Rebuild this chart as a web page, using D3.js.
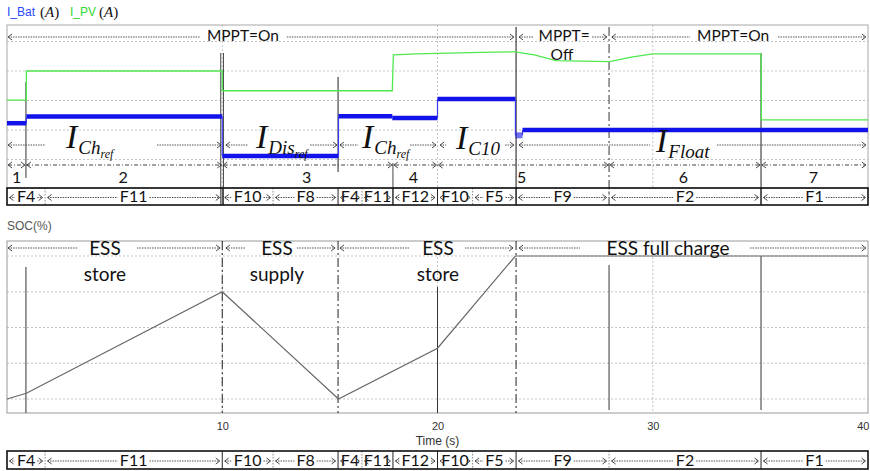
<!DOCTYPE html>
<html><head><meta charset="utf-8">
<script src="https://cdn.jsdelivr.net/npm/d3@7"></script>
<style>
body{margin:0;background:#fff;}
svg{display:block;}
</style></head>
<body><svg id="c" width="870" height="471"></svg>
<script>
// ---------------- data ----------------
const batTime  = [0, 0.9, 10, 15.4, 17.9, 20, 23.62, 23.95, 40];
const batValue = [1.23, 1.46, 0.12, 1.47, 1.41, 2.05, 0.82, 1.0, 1.0];
const pvTime  = [0, 0.9, 0.9, 10, 10, 17.9, 17.95, 19, 20, 22, 23.6, 24.5, 25.5, 28, 29, 30, 32, 35.03, 35.05, 40];
const pvValue = [2.01, 2.01, 3.0, 3.0, 2.33, 2.33, 3.55, 3.58, 3.6, 3.63, 3.65, 3.55, 3.35, 3.32, 3.47, 3.58, 3.58, 3.58, 1.34, 1.34];
const socTime  = [0, 0.9, 10, 15.4, 20, 23.62, 40];
const socValue = [60, 61.6, 90, 60, 74.2, 100, 100];
const xTicks = [10, 20, 30, 40];
const iGrid = [0, 1, 2, 3, 4];
const socGrid = [60, 70, 80, 90, 100];
const stripEdges  = [0, 1.77, 10, 12.36, 15.38, 16.49, 17.93, 20, 21.63, 23.65, 27.97, 35.03, 40];
const stripLabels = ["F4", "F11", "F10", "F8", "F4", "F11", "F12", "F10", "F5", "F9", "F2", "F1"];
const stripMajor  = [false, true, false, true, false, true, true, false, true, false, true];
const modeLabels = ["1", "2", "3", "4", "5", "6", "7"];
const modeCenters = [0.45, 5.4, 13.92, 18.88, 23.91, 31.42, 37.46];
const modeJunctions = [0.88, 10, 17.93, 20, 27.97, 35.03];

// ---------------- layout ----------------
const svg = d3.select("#c");
const x = d3.scaleLinear().domain([0, 40]).range([7, 868]);
const yI = d3.scaleLinear().domain([0, 4]).range([159.5, 41.5]);
const yS = d3.scaleLinear().domain([60, 100]).range([399, 256]);
const up = {top: 25, bottom: 188};
const lo = {top: 241, bottom: 413};
const SANS = "Lato, 'Open Sans', sans-serif";
const ARIAL = "'Liberation Sans', Arial, sans-serif";
const SERIF = "'Liberation Serif', 'Times New Roman', serif";
const GRID = "#c4c4c4";
const ARR = "#555";

function head(g, xt, y, dir) {
  g.append("path").attr("d", `M${xt - dir*4},${y-3}L${xt},${y}L${xt - dir*4},${y+3}`)
   .attr("fill", "none").attr("stroke", "#333").attr("stroke-width", 0.9);
}
function piece(g, y, t0, t1, h) {
  g.append("line").attr("x1", x(t0)).attr("x2", x(t1)).attr("y1", y).attr("y2", y)
   .attr("stroke", ARR).attr("stroke-width", 1).attr("stroke-dasharray", "1.5,1");
  if (h === "L" || h === "B") head(g, x(t0), y, -1);
  if (h === "R" || h === "B") head(g, x(t1), y, 1);
}
function vline(g, t, y0, y1, style, col, off) {
  const l = g.append("line").attr("x1", x(t) + (off||0)).attr("x2", x(t) + (off||0))
    .attr("y1", y0).attr("y2", y1).attr("stroke", col || "#222").attr("stroke-width", 1);
  if (style === "dashdot") l.attr("stroke-dasharray", "9,3,2,3");
  if (style === "dot") l.attr("stroke-dasharray", "1.5,1.5");
  return l;
}

// ---------------- top legend ----------------
const lg = svg.append("g");
lg.append("text").attr("x", 7).attr("y", 16).attr("font-family", ARIAL).attr("font-size", 12).attr("fill", "#2a48ff").text("I_Bat");
lg.append("text").attr("x", 40).attr("y", 17).attr("font-family", SERIF).attr("font-size", 15).attr("fill", "#111").html("(<tspan font-style='italic'>A</tspan>)");
lg.append("text").attr("x", 70).attr("y", 16).attr("font-family", ARIAL).attr("font-size", 12).attr("fill", "#33d633").text("I_PV");
lg.append("text").attr("x", 99).attr("y", 17).attr("font-family", SERIF).attr("font-size", 15).attr("fill", "#111").html("(<tspan font-style='italic'>A</tspan>)");

// ---------------- upper panel ----------------
const U = svg.append("g");
U.selectAll(".hg").data(iGrid).join("line").attr("x1", x(0)).attr("x2", x(40))
  .attr("y1", d => yI(d)).attr("y2", d => yI(d)).attr("stroke", GRID).attr("stroke-dasharray", "2,2");
U.selectAll(".vg").data([10, 20, 30]).join("line").attr("x1", d => x(d)).attr("x2", d => x(d))
  .attr("y1", up.top).attr("y2", up.bottom).attr("stroke", GRID).attr("stroke-dasharray", "2,2");
U.append("rect").attr("x", x(0)).attr("y", up.top).attr("width", x(40) - x(0)).attr("height", up.bottom - up.top)
  .attr("fill", "none").attr("stroke", "#a8a8a8");

// event lines
vline(U, 0.88, 82, 178, "solid", "#333");
vline(U, 10, 53, 205, "solid", "#444", -1.5);
vline(U, 10, 53, 205, "solid", "#444", 1.2);
vline(U, 15.38, 77, 172, "solid", "#222");
vline(U, 17.93, 163, 205, "solid", "#444");
vline(U, 23.65, 27, 205, "solid", "#111");
vline(U, 27.97, 27, 205, "dashdot", "#333");
vline(U, 35.03, 53, 205, "solid", "#222");

// PV line
const pvLine = d3.line().x((d, i) => x(pvTime[i])).y(d => yI(d)).curve(d3.curveLinear);
U.append("path").attr("d", pvLine(pvValue)).attr("fill", "none").attr("stroke", "#4fe84f").attr("stroke-width", 1.3);

// Bat line: thick horizontal steps, thin vertical connectors
for (let i = 0; i < batTime.length - 1; i++) {
  U.append("line").attr("x1", x(batTime[i])).attr("x2", x(batTime[i+1]))
    .attr("y1", yI(batValue[i])).attr("y2", yI(batValue[i]))
    .attr("stroke", "#1212ea").attr("stroke-width", i === 6 ? 6 : 4.5).attr("opacity", i === 6 ? 0.6 : 1);
  if (i > 0) U.append("line").attr("x1", x(batTime[i])).attr("x2", x(batTime[i]))
    .attr("y1", yI(batValue[i-1])).attr("y2", yI(batValue[i]))
    .attr("stroke", "#3a3af0").attr("stroke-width", 1.2);
}

// MPPT row
const mY = 37;
[[0.05, 8.97, "L"], [13.0, 23.55, "R"], [23.79, 24.44, "L"], [27.18, 27.87, "R"], [28.1, 31.73, "L"], [35.82, 39.9, "R"]]
  .forEach(p => piece(U, mY, p[0], p[1], p[2]));
[["MPPT=On", 10.96, 41], ["MPPT=", 25.88, 41], ["Off", 25.78, 59.5], ["MPPT=On", 33.73, 41]].forEach(d =>
  U.append("text").attr("x", x(d[1])).attr("y", d[2]).attr("text-anchor", "middle")
   .attr("font-family", SANS).attr("font-size", 15.5).attr("fill", "#111").text(d[0]));

// current reference row
const iY = 145;
[[0.05, 1.77, "L"], [6.97, 9.94, "R"], [10.17, 11.2, "L"], [14.08, 15.33, "R"], [15.47, 16.31, "L"],
 [18.72, 19.93, "R"], [20.12, 20.4, "L"], [23.14, 23.55, "R"], [23.79, 29.87, "L"], [32.98, 39.9, "R"]]
  .forEach(p => piece(U, iY, p[0], p[1], p[2]));
const iLabels = [
  {t: 2.74, sub: "Ch", ss: "ref", b: 148},
  {t: 11.57, sub: "Dis", ss: "ref", b: 148},
  {t: 16.49, sub: "Ch", ss: "ref", b: 148},
  {t: 20.86, sub: "C10", ss: "", b: 149},
  {t: 30.15, sub: "Float", ss: "", b: 152}
];
iLabels.forEach(d => {
  const tx = U.append("text").attr("x", x(d.t)).attr("y", d.b).attr("font-family", SERIF)
    .attr("font-style", "italic").attr("fill", "#111");
  tx.append("tspan").attr("font-size", 34).text("I");
  tx.append("tspan").attr("font-size", 19).attr("dx", 1).attr("dy", 6).text(d.sub);
  if (d.ss) tx.append("tspan").attr("font-size", 12).attr("dy", 4).text(d.ss);
});

// mode number row
const nY = 165;
U.append("line").attr("x1", x(0.05)).attr("x2", x(39.9)).attr("y1", nY).attr("y2", nY)
  .attr("stroke", "#444").attr("stroke-dasharray", "4,2,1,2");
head(U, x(0.05), nY, -1); head(U, x(39.9), nY, 1);
modeJunctions.forEach(t => { head(U, x(t) - 1, nY, 1); head(U, x(t) + 1, nY, -1); });
U.selectAll(".mn").data(modeLabels).join("text").attr("x", (d, i) => x(modeCenters[i])).attr("y", 182.5)
  .attr("text-anchor", "middle").attr("font-family", SANS).attr("font-size", 16).attr("fill", "#111").text(d => d);

// ---------------- strips ----------------
function strip(y0, y1) {
  const g = svg.append("g");
  const my = (y0 + y1) / 2;
  for (let i = 0; i < stripLabels.length; i++) {
    const a = x(stripEdges[i]), b = x(stripEdges[i+1]);
    const cx = (a + b) / 2;
    const t = g.append("text").attr("x", cx).attr("y", y1 - 3).attr("text-anchor", "middle")
      .attr("font-family", SANS).attr("font-size", 16).attr("fill", "#111").text(stripLabels[i]);
    const w = t.node().getComputedTextLength();
    const l0 = a + 2.5, l1 = cx - w / 2 - 2, r0 = cx + w / 2 + 2, r1 = b - 2.5;
    [[l0, l1, -1], [r0, r1, 1]].forEach(s => {
      if (s[1] - s[0] > 1) g.append("line").attr("x1", s[0]).attr("x2", s[1]).attr("y1", my + 1).attr("y2", my + 1)
        .attr("stroke", ARR).attr("stroke-dasharray", "1.5,1");
      head(g, s[2] < 0 ? s[0] : s[1], my + 1, s[2]);
    });
    if (i < stripLabels.length - 1) {
      const e = g.append("line").attr("x1", b).attr("x2", b).attr("y1", y0).attr("y2", y1)
        .attr("stroke", stripMajor[i] ? "#222" : "#888").attr("stroke-width", 1);
      if (!stripMajor[i]) e.attr("stroke-dasharray", "1.5,1.5");
    }
  }
  g.append("rect").attr("x", x(0)).attr("y", y0).attr("width", x(40) - x(0)).attr("height", y1 - y0)
    .attr("fill", "none").attr("stroke", "#111").attr("stroke-width", 1.6);
}
strip(188, 205);
strip(451, 469);

// ---------------- lower panel ----------------
const L = svg.append("g");
L.append("text").attr("x", 7).attr("y", 230).attr("font-family", ARIAL).attr("font-size", 12).attr("fill", "#555").text("SOC(%)");
L.selectAll(".hg").data(socGrid).join("line").attr("x1", x(0)).attr("x2", x(40))
  .attr("y1", d => yS(d)).attr("y2", d => yS(d)).attr("stroke", GRID).attr("stroke-dasharray", "2,2");
L.selectAll(".vg").data([10, 20, 30]).join("line").attr("x1", d => x(d)).attr("x2", d => x(d))
  .attr("y1", lo.top).attr("y2", lo.bottom).attr("stroke", GRID).attr("stroke-dasharray", "2,2");
L.append("rect").attr("x", x(0)).attr("y", lo.top).attr("width", x(40) - x(0)).attr("height", lo.bottom - lo.top)
  .attr("fill", "none").attr("stroke", "#999");

vline(L, 0.88, 267, 413, "solid", "#333");
vline(L, 10, 241, 413, "dashdot", "#222");
vline(L, 15.38, 241, 413, "dashdot", "#222");
vline(L, 20, 287, 413, "solid", "#333");
vline(L, 23.65, 241, 413, "dashdot", "#222");
vline(L, 27.97, 265, 410, "solid", "#333");
vline(L, 35.03, 256, 410, "solid", "#333");

const socLine = d3.line().x((d, i) => x(socTime[i])).y(d => yS(d));
L.append("path").attr("d", socLine(socValue)).attr("fill", "none").attr("stroke", "#666").attr("stroke-width", 1.2);

const eY = 248;
[[0.05, 3.3, "L"], [6.04, 9.9, "R"], [10.17, 11.06, "L"], [13.47, 15.24, "R"], [15.47, 18.72, "L"],
 [21.28, 23.51, "R"], [23.79, 26.62, "L"], [34.52, 39.9, "R"]].forEach(p => piece(L, eY, p[0], p[1], p[2]));
[["ESS", 4.55, 255], ["store", 4.55, 281], ["ESS", 12.54, 255], ["supply", 12.54, 281],
 ["ESS", 20.02, 255], ["store", 20.02, 281], ["ESS full charge", 30.71, 255]].forEach(d =>
  L.append("text").attr("x", x(d[1])).attr("y", d[2]).attr("text-anchor", "middle")
   .attr("font-family", SANS).attr("font-size", 19).attr("fill", "#111").text(d[0]));

// x axis
const ax = L.append("g").attr("transform", `translate(0,${lo.bottom})`)
  .call(d3.axisBottom(x).tickValues(xTicks).tickSize(0).tickPadding(9).tickFormat(d3.format("d")));
ax.select(".domain").remove();
ax.selectAll("text").attr("font-family", ARIAL).attr("font-size", 11).attr("fill", "#333")
  .attr("text-anchor", d => d === 40 ? "end" : "middle").attr("dx", d => d === 40 ? 1 : 0);
L.append("text").attr("x", x(20)).attr("y", 445).attr("text-anchor", "middle").attr("font-family", ARIAL)
  .attr("font-size", 12).attr("fill", "#333").text("Time (s)");
</script>
</body></html>
